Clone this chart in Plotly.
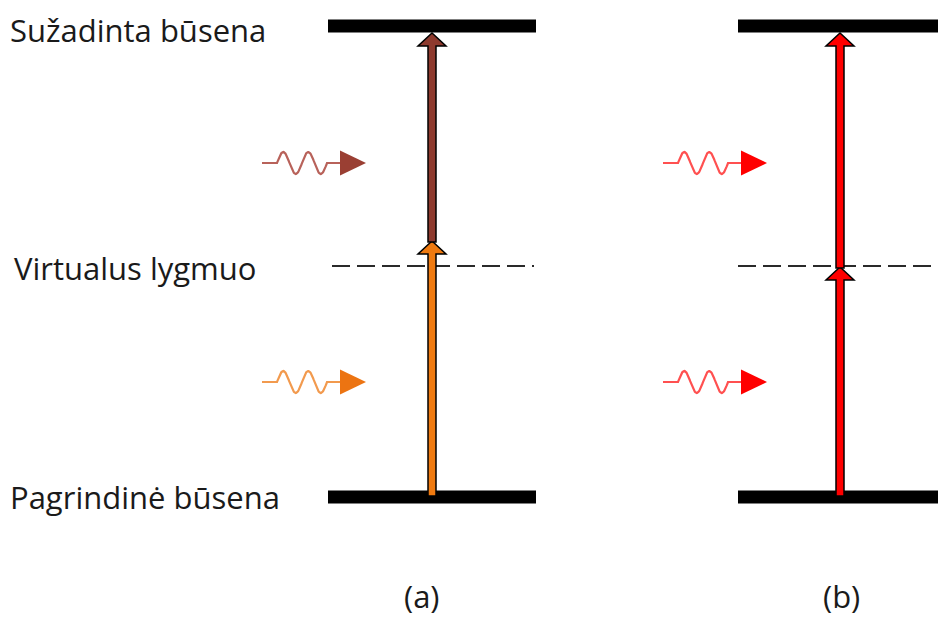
import numpy as np
import plotly.graph_objects as go

# ---- data (pixel-space diagram coordinates) ----
level_names = ["Sužadinta būsena", "Virtualus lygmuo", "Pagrindinė būsena"]
level_y = [26, 266, 497]          # excited, virtual, ground
label_x = [8, 12, 8]
label_y = [30, 268, 497]
panel_names = ["(a)", "(b)"]
panel_label_x = [422, 841]
panel_x = [432, 840]              # vertical arrow positions
bar_left = [328, 738]
bar_right = [536, 946]
dash_left = [332, 738]
mid_tip = [241, 267]              # where the two absorption steps meet
photon_y = [163, 382]             # upper and lower photon arrows
photon_start = [262, 663]
lower_colors = ["#EF7A10", "#FF0000"]
upper_colors = ["#8E3A2E", "#FF0000"]
lower_wave_colors = ["#F29A4E", "#FF5050"]
upper_wave_colors = ["#B8625A", "#FF5050"]
upper_head_colors = ["#9A3F33", "#FF0000"]
lower_head_colors = ["#EC7412", "#FF0000"]

fig = go.Figure()
shapes = []

# level bars
for p in range(2):
    for yy in (level_y[0], level_y[2]):
        shapes.append(dict(type="rect", x0=bar_left[p], x1=bar_right[p], y0=yy - 6.5, y1=yy + 6.5,
                           fillcolor="black", line=dict(width=0), layer="below"))
    shapes.append(dict(type="line", x0=dash_left[p], x1=bar_right[p] - 2, y0=level_y[1], y1=level_y[1],
                       line=dict(color="#2a2a2a", width=2, dash="18px,7px"), layer="below"))


def arrow_path(xc, y_tail, y_tip, sw=4, hw=14, hl=13):
    pts = [(xc - sw, y_tail), (xc - sw, y_tip + hl), (xc - hw, y_tip + hl), (xc, y_tip),
           (xc + hw, y_tip + hl), (xc + sw, y_tip + hl), (xc + sw, y_tail)]
    return "M " + " L ".join(f"{x},{y}" for x, y in pts) + " Z"


for p in range(2):
    xc = panel_x[p]
    shapes.append(dict(type="path", path=arrow_path(xc, level_y[2] - 1, mid_tip[p]),
                       fillcolor=lower_colors[p], line=dict(color="black", width=1.5)))
    shapes.append(dict(type="path", path=arrow_path(xc, mid_tip[p] + 1, level_y[0] + 7),
                       fillcolor=upper_colors[p], line=dict(color="black", width=1.5)))


def photon(x0, yc, wave_color, head_color):
    xs1 = np.array([x0, x0 + 15])
    t = np.linspace(0, 50, 120)
    xw = x0 + 15 + t
    yw = yc - 11 * np.sin(2 * np.pi * t / 25)
    xs = np.concatenate([xs1, xw, [x0 + 78]])
    ys = np.concatenate([[yc, yc], yw, [yc]])
    fig.add_trace(go.Scatter(x=xs, y=ys, mode="lines", line=dict(color=wave_color, width=2.2),
                             hoverinfo="skip", showlegend=False))
    shapes.append(dict(type="path",
                       path=f"M {x0+78},{yc-12.5} L {x0+104},{yc} L {x0+78},{yc+12.5} Z",
                       fillcolor=head_color, line=dict(width=0)))


for p in range(2):
    photon(photon_start[p], photon_y[0], upper_wave_colors[p], upper_head_colors[p])
    photon(photon_start[p], photon_y[1], lower_wave_colors[p], lower_head_colors[p])

annotations = []
font = dict(family="Open Sans, sans-serif", size=31, color="#1a1a1a")
for name, yy, xx in zip(level_names, label_y, label_x):
    annotations.append(dict(x=xx, y=yy, text=name, showarrow=False, xanchor="left", yanchor="middle",
                            xref="x", yref="y", font=font))
for name, xx in zip(panel_names, panel_label_x):
    annotations.append(dict(x=xx, y=619, text=name, showarrow=False, xanchor="center", yanchor="bottom",
                            xref="x", yref="y", font=font))

fig.update_layout(
    width=938, height=619, margin=dict(l=0, r=0, t=0, b=0),
    paper_bgcolor="white", plot_bgcolor="white",
    xaxis=dict(range=[0, 938], visible=False, fixedrange=True),
    yaxis=dict(range=[619, 0], visible=False, fixedrange=True),
    shapes=shapes, annotations=annotations, showlegend=False,
)
fig.write_html("out.html")
